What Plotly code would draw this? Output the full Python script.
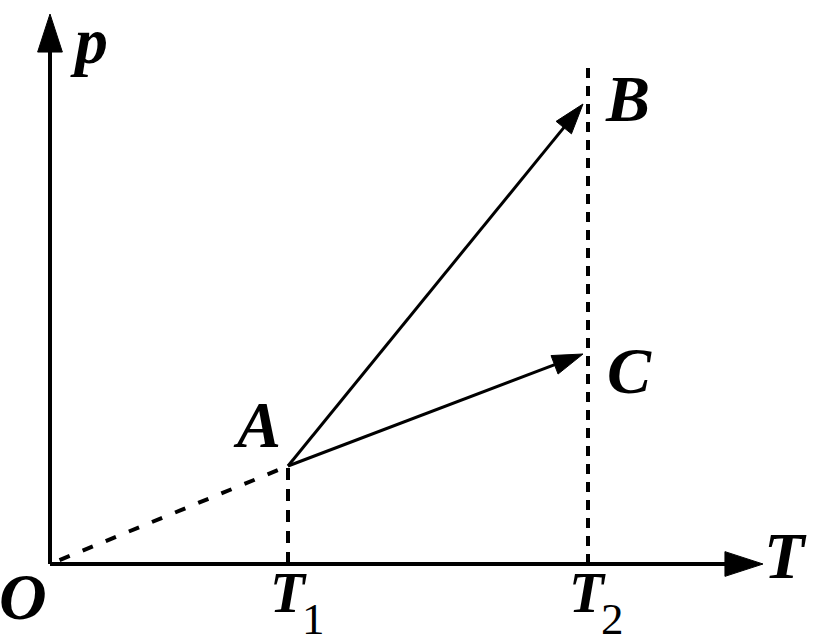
import plotly.graph_objects as go

# Diagram data (1 unit = 100 px of the reference)
T1 = 2.38
T2 = 5.38
point_A = (T1, 0.98)
point_B = (5.33, 4.60)
point_C = (5.33, 2.10)
axis_T_end = 7.13
axis_p_end = 5.50
T2_guide_top = 4.99
oa_start_frac = 0.04

fig = go.Figure()

black = "#000000"


def arrow_marker(size):
    return dict(symbol=["line-ew", "arrow"], size=[0, size], angleref="previous",
                color=black, opacity=1, line=dict(color=black, width=1))


# axes with arrow heads
fig.add_trace(go.Scatter(x=[0, 0], y=[0, axis_p_end], mode="lines+markers",
                         line=dict(color=black, width=4), marker=arrow_marker(40), hoverinfo="skip"))
fig.add_trace(go.Scatter(x=[0, axis_T_end], y=[0, 0], mode="lines+markers",
                         line=dict(color=black, width=4), marker=arrow_marker(40), hoverinfo="skip"))

# dashed guides
fig.add_trace(go.Scatter(x=[point_A[0] * oa_start_frac, point_A[0]], y=[point_A[1] * oa_start_frac, point_A[1]],
                         mode="lines", line=dict(color=black, width=4, dash="11px,14px"), hoverinfo="skip"))
fig.add_trace(go.Scatter(x=[T1, T1], y=[0, point_A[1]], mode="lines",
                         line=dict(color=black, width=4, dash="12px,9px"), hoverinfo="skip"))
fig.add_trace(go.Scatter(x=[T2, T2], y=[0, T2_guide_top], mode="lines",
                         line=dict(color=black, width=4, dash="10px,8px"), hoverinfo="skip"))

# process arrows
for end in (point_B, point_C):
    fig.add_trace(go.Scatter(x=[point_A[0], end[0]], y=[point_A[1], end[1]], mode="lines+markers",
                             line=dict(color=black, width=3), marker=arrow_marker(32), hoverinfo="skip"))

big = dict(family="Liberation Serif", size=66, color=black, weight="bold", style="italic")
mid = dict(family="Liberation Serif", size=57, color=black, weight="bold", style="italic")
small = dict(family="Liberation Serif", size=45, color=black)

ann = [
    dict(x=0.39, y=5.24, text="p", font=big),
    dict(x=-0.27, y=-0.32, text="O", font=big),
    dict(x=2.07, y=1.40, text="A", font=big),
    dict(x=5.77, y=4.66, text="B", font=big),
    dict(x=5.79, y=1.94, text="C", font=big),
    dict(x=7.35, y=0.09, text="T", font=big),
    dict(x=T1, y=-0.28, text="T", font=mid),
    dict(x=T1 + 0.25, y=-0.55, text="1", font=small),
    dict(x=T2 - 0.01, y=-0.28, text="T", font=mid),
    dict(x=T2 + 0.24, y=-0.55, text="2", font=small),
]
for a in ann:
    fig.add_annotation(xref="x", yref="y", showarrow=False, xanchor="center", yanchor="middle", **a)

fig.update_layout(
    width=827, height=644,
    margin=dict(l=0, r=0, t=0, b=0),
    paper_bgcolor="white", plot_bgcolor="white",
    showlegend=False,
    xaxis=dict(range=[-0.50, 7.77], visible=False, fixedrange=True),
    yaxis=dict(range=[-0.80, 5.64], visible=False, fixedrange=True),
)

fig.write_html("out.html", config={"displayModeBar": False},
               post_script="document.body.style.margin='0';document.body.style.overflow='hidden';")
